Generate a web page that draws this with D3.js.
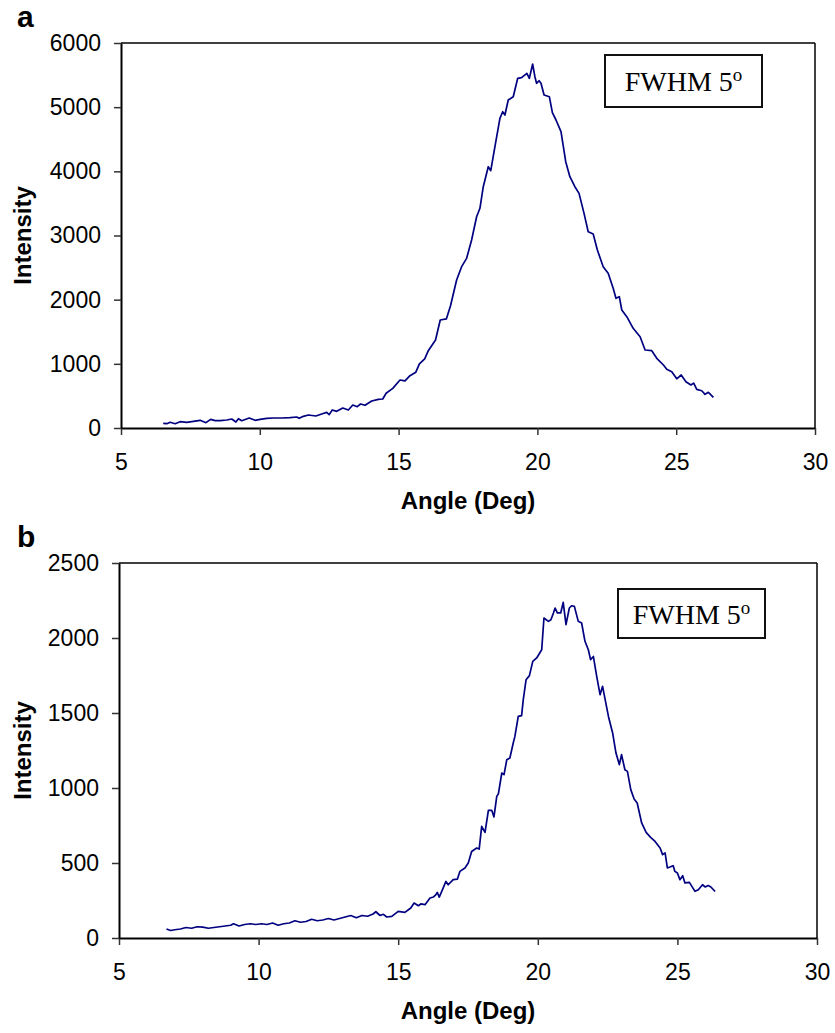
<!DOCTYPE html>
<html>
<head>
<meta charset="utf-8">
<script src="https://cdn.jsdelivr.net/npm/d3@7/dist/d3.min.js"></script>
<style>
  body { margin: 0; background: #fff; }
</style>
</head>
<body>
<script>
// values (angle in deg, intensity in counts)
const anglesA = [6.52, 6.65, 6.77, 6.95, 7.13, 7.37, 7.61, 7.85, 8.06, 8.23, 8.39, 8.57, 8.81, 8.99, 9.14, 9.23, 9.35, 9.62, 9.83, 10.01,
  10.25, 10.49, 10.79, 11.09, 11.33, 11.42, 11.57, 11.75, 12.02, 12.23, 12.41, 12.50, 12.61, 12.77, 12.99, 13.19, 13.35, 13.51, 13.63, 13.79,
  14.03, 14.27, 14.43, 14.55, 14.79, 15.05, 15.23, 15.41, 15.62, 15.75, 15.94, 16.07, 16.33, 16.50, 16.72, 16.87, 17.09, 17.27, 17.45, 17.63,
  17.81, 17.93, 18.05, 18.23, 18.32, 18.47, 18.65, 18.75, 18.83, 18.95, 19.13, 19.29, 19.43, 19.62, 19.71, 19.83, 19.91, 19.97, 20.06, 20.13,
  20.24, 20.43, 20.54, 20.67, 20.85, 21.02, 21.17, 21.35, 21.50, 21.68, 21.83, 22.01, 22.16, 22.37, 22.55, 22.73, 22.83, 22.95, 23.04, 23.22,
  23.45, 23.70, 23.88, 24.12, 24.30, 24.54, 24.66, 24.84, 25.02, 25.18, 25.35, 25.53, 25.63, 25.74, 25.92, 26.04, 26.16, 26.34];
const intensityA = [73, 67, 89, 67, 98, 89, 104, 120, 83, 135, 114, 114, 125, 140, 93, 145, 114, 156, 120, 135,
  151, 156, 156, 161, 171, 151, 182, 203, 187, 218, 244, 208, 281, 260, 312, 281, 358, 332, 374, 354,
  421, 447, 452, 541, 618, 748, 735, 815, 870, 1000, 1078, 1205, 1371, 1683, 1700, 1905, 2306, 2514, 2644, 2930,
  3293, 3424, 3760, 4072, 4010, 4384, 4826, 4929, 4878, 5111, 5163, 5450, 5459, 5528, 5450, 5672, 5474, 5372, 5412, 5372,
  5190, 5163, 4914, 4800, 4618, 4150, 3916, 3760, 3657, 3345, 3059, 3023, 2774, 2514, 2411, 2177, 2021, 2046, 1839, 1735,
  1554, 1423, 1216, 1205, 1086, 982, 915, 877, 767, 826, 722, 670, 700, 603, 581, 525, 556, 478];

const anglesB = [6.70, 6.85, 7.00, 7.20, 7.40, 7.60, 7.80, 8.00, 8.20, 8.40, 8.60, 8.80, 9.00, 9.10, 9.30, 9.50, 9.70, 9.90, 10.10, 10.30,
  10.50, 10.70, 10.90, 11.10, 11.30, 11.50, 11.70, 11.90, 12.10, 12.30, 12.50, 12.70, 12.90, 13.10, 13.30, 13.50, 13.70, 13.90, 14.10, 14.20,
  14.35, 14.47, 14.59, 14.77, 15.00, 15.24, 15.45, 15.57, 15.72, 15.81, 15.96, 16.14, 16.26, 16.35, 16.40, 16.47, 16.56, 16.71, 16.79, 16.97,
  17.12, 17.21, 17.39, 17.51, 17.63, 17.81, 17.90, 17.99, 18.11, 18.23, 18.35, 18.43, 18.53, 18.59, 18.71, 18.79, 18.89, 19.00, 19.12, 19.18,
  19.30, 19.42, 19.48, 19.58, 19.70, 19.82, 19.96, 20.14, 20.22, 20.38, 20.47, 20.56, 20.62, 20.70, 20.82, 20.91, 21.01, 21.13, 21.21, 21.31,
  21.45, 21.57, 21.69, 21.81, 21.89, 21.99, 22.11, 22.23, 22.32, 22.53, 22.68, 22.80, 22.92, 23.00, 23.12, 23.21, 23.33, 23.45, 23.56, 23.72,
  23.88, 24.04, 24.20, 24.38, 24.47, 24.56, 24.64, 24.73, 24.85, 24.91, 25.00, 25.09, 25.19, 25.27, 25.43, 25.63, 25.75, 25.90, 26.00, 26.10,
  26.20, 26.35];
const intensityB = [60, 50, 55, 60, 70, 65, 75, 72, 65, 70, 75, 80, 85, 95, 80, 90, 95, 90, 95, 90,
  100, 85, 95, 100, 115, 105, 110, 125, 115, 120, 130, 120, 130, 140, 150, 135, 150, 145, 160, 175,
  150, 158, 140, 144, 177, 171, 200, 233, 215, 227, 222, 267, 273, 289, 304, 273, 311, 377, 355, 389,
  393, 444, 467, 500, 577, 600, 593, 744, 704, 851, 851, 807, 944, 962, 1100, 1089, 1189, 1200, 1300, 1344,
  1477, 1482, 1589, 1722, 1749, 1844, 1867, 1922, 2133, 2111, 2122, 2167, 2200, 2167, 2167, 2237, 2089, 2200, 2215, 2211,
  2111, 2100, 1978, 1922, 1856, 1877, 1744, 1622, 1678, 1477, 1367, 1233, 1156, 1222, 1122, 1111, 989, 927, 900, 767,
  704, 671, 644, 600, 556, 567, 467, 473, 482, 444, 433, 389, 415, 367, 371, 311, 322, 355, 340, 350,
  340, 310];

const xTicks = [5, 10, 15, 20, 25, 30];
const yTicksA = [0, 1000, 2000, 3000, 4000, 5000, 6000];
const yTicksB = [0, 500, 1000, 1500, 2000, 2500];

let width = 835;
let height = 1033;
let svg = d3.select("body").append("svg")
            .attr("width", width)
            .attr("height", height)
            .style("font-family", "'Liberation Sans', Arial, sans-serif");


function drawPanel(p) {
  let x = d3.scaleLinear().domain([5, 30]).range([p.left, p.right]);
  let y = d3.scaleLinear().domain([0, d3.max(p.yTicks)]).range([p.bottom, p.top]);

  let g = svg.append("g");

  // frame: top and right are thinner than the axes
  g.append("line")
   .attr("x1", p.left).attr("x2", p.right)
   .attr("y1", p.top).attr("y2", p.top)
   .attr("stroke", "#000").attr("stroke-width", 1.5);
  g.append("line")
   .attr("x1", p.right).attr("x2", p.right)
   .attr("y1", p.top).attr("y2", p.bottom)
   .attr("stroke", "#000").attr("stroke-width", 1.5);

  let xAxis = g.append("g")
               .attr("transform", "translate(0," + p.bottom + ")")
               .call(d3.axisBottom(x).tickValues(xTicks).tickSize(7).tickPadding(19).tickSizeOuter(0));
  let yAxis = g.append("g")
               .attr("transform", "translate(" + p.left + ",0)")
               .call(d3.axisLeft(y).tickValues(p.yTicks).tickSize(7).tickPadding(13).tickSizeOuter(0)
                        .tickFormat(d3.format("d")));

  [xAxis, yAxis].forEach(function(a) {
    a.select(".domain").attr("stroke", "#000").attr("stroke-width", 2);
    a.selectAll(".tick line").attr("stroke", "#333").attr("stroke-width", 1.5);
    a.selectAll(".tick text")
     .attr("fill", "#000")
     .style("font-family", "'Liberation Sans', Arial, sans-serif")
     .style("font-size", "23px");
  });

  let line = d3.line()
               .x(function(d) { return x(d[0]); })
               .y(function(d) { return y(d[1]); });

  g.append("path")
   .datum(d3.zip(p.angles, p.values))
   .attr("d", line)
   .attr("fill", "none")
   .attr("stroke", "#000080")
   .attr("stroke-width", 1.7)
   .attr("stroke-linejoin", "round");

  // axis titles
  g.append("text")
   .attr("x", (p.left + p.right) / 2)
   .attr("y", p.bottom + 81)
   .attr("text-anchor", "middle")
   .style("font-weight", "bold")
   .style("font-size", "24px")
   .text("Angle (Deg)");

  g.append("text")
   .attr("transform", "translate(31," + ((p.top + p.bottom) / 2) + ") rotate(-90)")
   .attr("text-anchor", "middle")
   .style("font-weight", "bold")
   .style("font-size", "24px")
   .text("Intensity");

  // panel letter
  g.append("text")
   .attr("x", 17)
   .attr("y", p.top - 16)
   .style("font-weight", "bold")
   .style("font-size", "30px")
   .text(p.letter);

  // FWHM box
  g.append("rect")
   .attr("x", p.box[0]).attr("y", p.box[1])
   .attr("width", p.box[2]).attr("height", p.box[3])
   .attr("fill", "#fff")
   .attr("stroke", "#111")
   .attr("stroke-width", 2);

  let t = g.append("text")
           .attr("x", p.box[0] + p.box[2] / 2)
           .attr("y", p.box[1] + p.box[3] / 2 + 10)
           .attr("text-anchor", "middle")
           .style("font-family", "'Liberation Serif', 'Times New Roman', serif")
           .style("font-size", "28px");
  t.append("tspan").text("FWHM 5");
  t.append("tspan")
   .attr("dy", -10)
   .style("font-size", "19px")
   .text("o");
}


drawPanel({
  letter: "a",
  left: 121, right: 815, top: 43, bottom: 428,
  yTicks: yTicksA,
  angles: anglesA, values: intensityA,
  box: [605, 55, 157, 52]
});

drawPanel({
  letter: "b",
  left: 119, right: 817, top: 563, bottom: 938,
  yTicks: yTicksB,
  angles: anglesB, values: intensityB,
  box: [618, 589, 147, 49]
});
</script>
</body>
</html>
